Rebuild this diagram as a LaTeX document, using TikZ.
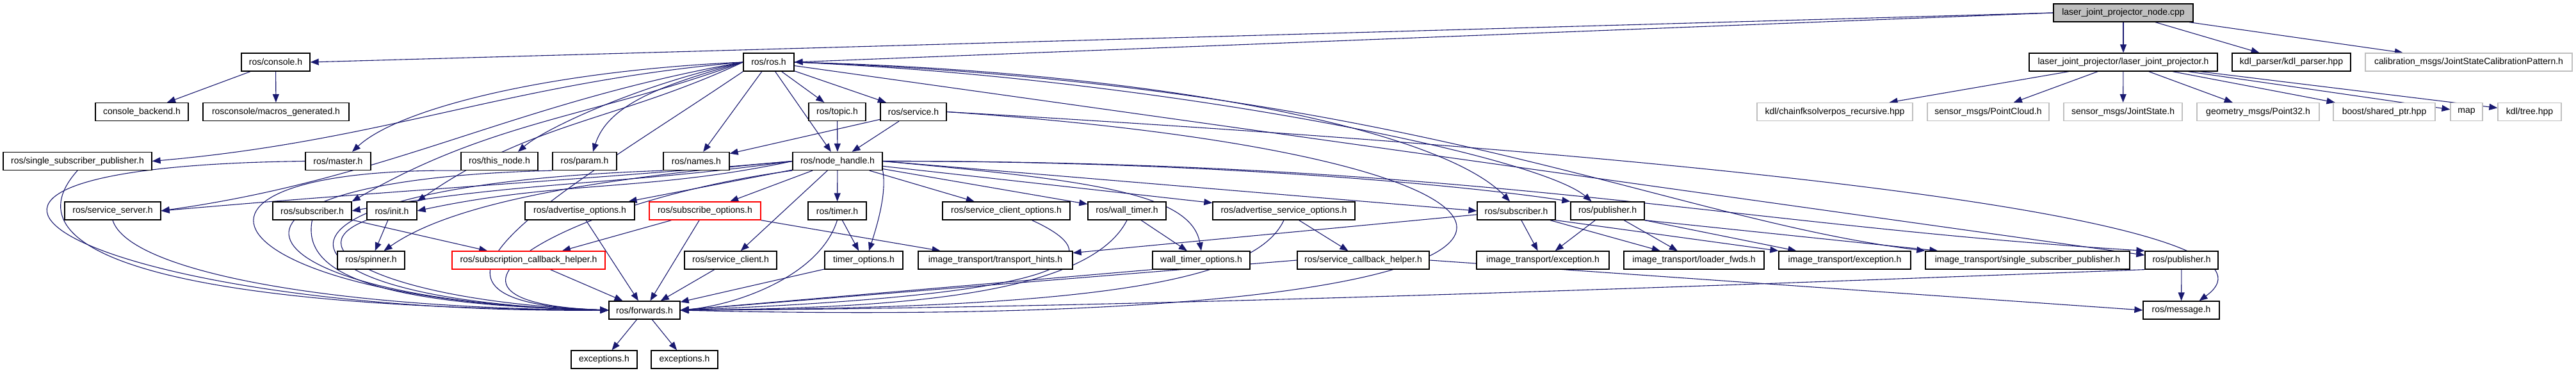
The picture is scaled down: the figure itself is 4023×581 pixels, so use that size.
\documentclass[tikz,border=0pt]{standalone}
\usepackage{fontspec}
\setmainfont{Liberation Sans}
\usetikzlibrary{arrows.meta,calc}
\definecolor{edgeblue}{HTML}{191970}
\definecolor{greyfill}{HTML}{BFBFBF}
\pgfdeclarelayer{back}
\pgfdeclarelayer{edges}
\pgfsetlayers{back,edges,main}
\begin{document}
\begin{tikzpicture}[x=1pt,y=1pt,
  box/.style={draw=black, line width=1.3pt, fill=white, minimum height=28pt, inner sep=0pt, font={\fontsize{14}{16}\selectfont}, text=black},
  extbox/.style={box, draw=greyfill},
  redbox/.style={box, draw=red},
  rootbox/.style={box, fill=greyfill},
  dep/.style={draw=edgeblue, line width=1.1pt, -{Triangle[length=13pt,width=10pt]}}]
\useasboundingbox (0,0) rectangle (4023,581);
\begin{pgfonlayer}{back}
\fill[white] (0,0) rectangle (4023,581);
\end{pgfonlayer}
% row 0
\node[rootbox, minimum width=218pt] (cpp) at (3316,561) {laser\_joint\_projector\_node.cpp};
% row 1
\node[box, minimum width=107pt] (console) at (430.5,484) {ros/console.h};
\node[box, minimum width=79pt] (ros) at (1200.5,484) {ros/ros.h};
\node[box, minimum width=294pt] (ljp) at (3316,484) {laser\_joint\_projector/laser\_joint\_projector.h};
\node[box, minimum width=185pt] (kdlp) at (3578.5,484) {kdl\_parser/kdl\_parser.hpp};
\node[extbox, minimum width=323pt] (calib) at (3855.5,484) {calibration\_msgs/JointStateCalibrationPattern.h};
% row 2
\node[box, minimum width=145pt] (backend) at (221.5,406.5) {console\_backend.h};
\node[box, minimum width=228pt] (macros) at (431,406.5) {rosconsole/macros\_generated.h};
\node[box, minimum width=89pt] (topic) at (1307.5,406.5) {ros/topic.h};
\node[box, minimum width=103pt] (service) at (1426.5,406.5) {ros/service.h};
\node[extbox, minimum width=243pt] (chainfk) at (2865.5,406.5) {kdl/chainfksolverpos\_recursive.hpp};
\node[extbox, minimum width=190pt] (pcloud) at (3105,406.5) {sensor\_msgs/PointCloud.h};
\node[extbox, minimum width=185pt] (jstate) at (3315.5,406.5) {sensor\_msgs/JointState.h};
\node[extbox, minimum width=191pt] (pt32) at (3526.5,406.5) {geometry\_msgs/Point32.h};
\node[extbox, minimum width=159pt] (sptr) at (3723.5,406.5) {boost/shared\_ptr.hpp};
\node[extbox, minimum width=50pt] (map) at (3852,406.5) {map};
\node[extbox, minimum width=99pt] (tree) at (3950.5,406.5) {kdl/tree.hpp};
% row 3
\node[box, minimum width=232pt] (ssp) at (121,329.5) {ros/single\_subscriber\_publisher.h};
\node[box, minimum width=102pt] (master) at (528,329.5) {ros/master.h};
\node[box, minimum width=120pt] (thisnode) at (780,329.5) {ros/this\_node.h};
\node[box, minimum width=100pt] (param) at (913,329.5) {ros/param.h};
\node[box, minimum width=103pt] (names) at (1087.5,329.5) {ros/names.h};
\node[box, minimum width=140pt] (nh) at (1308,329.5) {ros/node\_handle.h};
% row 4
\node[box, minimum width=150pt] (srvserver) at (176,252) {ros/service\_server.h};
\node[box, minimum width=123pt] (subL) at (487.5,252) {ros/subscriber.h};
\node[box, minimum width=78pt] (init) at (612,252) {ros/init.h};
\node[box, minimum width=171pt] (advopt) at (905.5,252) {ros/advertise\_options.h};
\node[redbox, minimum width=174pt] (subopt) at (1101,252) {ros/subscribe\_options.h};
\node[box, minimum width=91pt] (timer) at (1307.5,252) {ros/timer.h};
\node[box, minimum width=199pt] (scopt) at (1571.5,252) {ros/service\_client\_options.h};
\node[box, minimum width=122pt] (walltimer) at (1760,252) {ros/wall\_timer.h};
\node[box, minimum width=222pt] (asopt) at (2005,252) {ros/advertise\_service\_options.h};
\node[box, minimum width=122pt] (subR) at (2368,252) {ros/subscriber.h};
\node[box, minimum width=115pt] (pubR) at (2510.5,252) {ros/publisher.h};
% row 5
\node[box, minimum width=105pt] (spinner) at (579.5,175) {ros/spinner.h};
\node[redbox, minimum width=239pt] (schelper) at (825.5,175) {ros/subscription\_callback\_helper.h};
\node[box, minimum width=144pt] (sclient) at (1141,175) {ros/service\_client.h};
\node[box, minimum width=122pt] (timeropt) at (1349,175) {timer\_options.h};
\node[box, minimum width=241pt] (thints) at (1554.5,175) {image\_transport/transport\_hints.h};
\node[box, minimum width=152pt] (wtopt) at (1876,175) {wall\_timer\_options.h};
\node[box, minimum width=206pt] (schelp) at (2129,175) {ros/service\_callback\_helper.h};
\node[box, minimum width=207pt] (itexca) at (2409.5,175) {image\_transport/exception.h};
\node[box, minimum width=219pt] (loader) at (2645.5,175) {image\_transport/loader\_fwds.h};
\node[box, minimum width=206pt] (itexcb) at (2881,175) {image\_transport/exception.h};
\node[box, minimum width=319pt] (itssp) at (3166.5,175) {image\_transport/single\_subscriber\_publisher.h};
\node[box, minimum width=114pt] (pubB) at (3407,175) {ros/publisher.h};
% row 6
\node[box, minimum width=111pt] (fwd) at (1006.5,97) {ros/forwards.h};
\node[box, minimum width=119pt] (msg) at (3406.5,97) {ros/message.h};
% row 7
\node[box, minimum width=103pt] (exca) at (943.5,20) {exceptions.h};
\node[box, minimum width=104pt] (excb) at (1069,20) {exceptions.h};

\begin{pgfonlayer}{edges}
% from the cpp
\draw[dep] (cpp.west) -- (console.east);
\draw[dep] (cpp.west) -- (ros.east);
\draw[dep] (cpp) -- (ljp);
\draw[dep] (cpp) -- (kdlp);
\draw[dep] (cpp) -- (calib);
% from laser_joint_projector.h
\draw[dep] (ljp) -- (chainfk);
\draw[dep] (ljp) -- (pcloud);
\draw[dep] (ljp) -- (jstate);
\draw[dep] (ljp) -- (pt32);
\draw[dep] (ljp) -- (sptr);
\draw[dep] (ljp) -- (map);
\draw[dep] (ljp) -- (tree);
% console
\draw[dep] (console) -- (backend);
\draw[dep] (console) -- (macros);
% from ros.h
\draw[dep] (ros.west) to[out=185,in=5] (ssp.east);
\draw[dep] (ros.west) .. controls (850,470) and (620,410) .. ($(master.north)+(22,0)$);
\draw[dep] (ros.west) .. controls (1000,450) and (850,380) .. ($(thisnode.north)+(29,0)$);
\draw[dep] (ros.west) .. controls (1040,450) and (950,420) .. ($(param.north)+(13,0)$);
\draw[dep] (ros) -- (names);
\draw[dep] (ros) -- (nh);
\draw[dep] (ros) -- (topic);
\draw[dep] (ros) -- (service);
\draw[dep] (ros.west) to[out=190,in=8] (srvserver.east);
\draw[dep] (ros.west) to[out=200,in=30] (subL.north east);
\draw[dep] (ros.west) to[out=205,in=35] (init.north east);
\draw[dep] (ros.south west) .. controls (880,280) and (560,110) .. (fwd.west);
\draw[dep] (ros.east) .. controls (1800,470) and (2250,380) .. ($(subR.north)+(-10,0)$);
\draw[dep] (ros.east) .. controls (1800,460) and (2400,340) .. ($(pubR.north)+(-25,0)$);
\draw[dep] (ros) -- (pubB);
\draw[dep] (ros.east) .. controls (2200,450) and (2600,240) .. (itssp.north west);
% topic, service
\draw[dep] (topic) -- (nh);
\draw[dep] (service) -- (nh);
\draw[dep] (service) -- (names);
\draw[dep] (service.east) .. controls (2800,330) and (3600,230) .. ($(msg.north)+(28,0)$);
\draw[dep] (service.east) .. controls (2600,330) and (2600,60) .. (fwd.east);
% row 3 to forwards (left loops)
\draw[dep] (ssp.south) .. controls (0,180) and (300,100) .. (fwd.west);
\draw[dep] (master.west) .. controls (-300,320) and (150,90) .. (fwd.west);
\draw[dep] (thisnode.south west) .. controls (200,320) and (330,110) .. (fwd.west);
\draw[dep] (param.south west) .. controls (250,300) and (360,110) .. (fwd.west);
\draw[dep] (names.south west) .. controls (330,290) and (400,110) .. (fwd.west);
\draw[dep] (nh.south west) .. controls (900,270) and (600,110) .. (fwd.west);
% node_handle
\draw[dep] (nh.west) to[out=185,in=5] (srvserver.east);
\draw[dep] (nh.west) to[out=188,in=10] (subL.east);
\draw[dep] (nh.west) to[out=192,in=12] (init.east);
\draw[dep] (nh.west) .. controls (900,300) and (700,260) .. ($(spinner.north)+(20,0)$);
\draw[dep] (nh) -- (advopt);
\draw[dep] (nh) -- (subopt);
\draw[dep] (nh) -- (timer);
\draw[dep] (nh) -- (sclient);
\draw[dep] (nh.south east) .. controls (1385,280) and (1370,230) .. ($(timeropt.north)+(8,0)$);
\draw[dep] (nh) -- (scopt);
\draw[dep] (nh) -- (walltimer);
\draw[dep] (nh.east) .. controls (1700,300) and (1860,280) .. (wtopt.north);
\draw[dep] (nh) -- (asopt);
\draw[dep] (nh.east) -- (subR.west);
\draw[dep] (nh.east) .. controls (1900,330) and (2300,290) .. (pubR.north west);
\draw[dep] (nh.east) .. controls (2300,330) and (2700,230) .. (pubB.north west);
% row 4
\draw[dep] (srvserver.south) .. controls (200,160) and (500,100) .. (fwd.west);
\draw[dep] (subL.south) .. controls (470,150) and (600,105) .. (fwd.west);
\draw[dep] (subL) -- (schelper);
\draw[dep] (init.south west) .. controls (450,190) and (620,110) .. (fwd.west);
\draw[dep] (init) -- (spinner);
\draw[dep] (advopt) -- (fwd);
\draw[dep] (subopt) -- (fwd);
\draw[dep] (subopt) -- (schelper);
\draw[dep] (subopt.south east) -- (thints);
\draw[dep] (timer.south) .. controls (1280,150) and (1150,105) .. (fwd.east);
\draw[dep] (timer) -- (timeropt);
\draw[dep] ($(scopt.south)+(40,0)$) .. controls (1760,170) and (1640,120) .. (fwd.east);
\draw[dep] (walltimer.south) .. controls (1700,120) and (1400,100) .. (fwd.east);
\draw[dep] (walltimer) -- (wtopt);
\draw[dep] (asopt.south) .. controls (1960,140) and (1700,100) .. (fwd.east);
\draw[dep] (asopt) -- (schelp);
\draw[dep] (subR) -- (thints);
\draw[dep] (subR) -- (itexca);
\draw[dep] (subR) -- (loader);
\draw[dep] (subR.south east) -- (itexcb.north west);
\draw[dep] (pubR) -- (itexca);
\draw[dep] (pubR) -- (loader);
\draw[dep] (pubR.south east) -- ($(itexcb.north west)+(28,0)$);
\draw[dep] (pubR.south east) -- ($(itssp.north west)+(20,0)$);
% row 5
\draw[dep] (schelper) -- (fwd);
\draw[dep] (sclient) -- (fwd);
\draw[dep] (timeropt) -- (fwd);
\draw[dep] (wtopt.south west) -- (fwd.east);
\draw[dep] (schelp.west) -- (fwd.east);
\draw[dep] (schelp.east) -- (msg.west);
\draw[dep] (pubB.south west) .. controls (2800,140) and (1800,100) .. (fwd.east);
\draw[dep] (pubB) -- (msg);
% row 6
\draw[dep] (fwd) -- (exca);
\draw[dep] (fwd) -- (excb);
\end{pgfonlayer}
\end{tikzpicture}
\end{document}
